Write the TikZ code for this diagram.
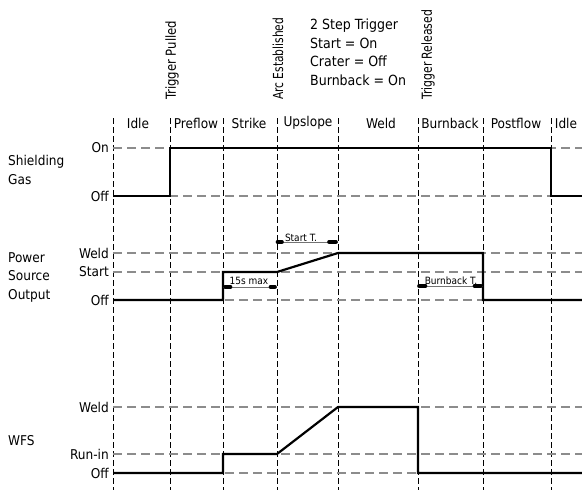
\documentclass[tikz,border=0pt]{standalone}
\usepackage{fontspec}
\setmainfont{DejaVu Sans Condensed}
\begin{document}
\begin{tikzpicture}[x=1pt,y=-1pt,
  vgrid/.style={black, line width=0.7pt, dash pattern=on 6pt off 3pt},
  hgrid/.style={black!45, line width=1.1pt, dash pattern=on 9pt off 5pt},
  signal/.style={black, line width=2.2pt, line join=miter, line cap=butt},
  dimline/.style={black!55, line width=0.7pt},
  blob/.style={black, line width=3.6pt, line cap=round},
  lvl/.style={anchor=east, font=\fontsize{13.5}{13.5}\selectfont, inner sep=0pt},
  rowlbl/.style={anchor=west, align=left, font=\fontsize{13.5}{18.5}\selectfont, inner sep=0pt},
  phase/.style={font=\fontsize{13.5}{13.5}\selectfont, inner sep=0pt},
  event/.style={rotate=90, anchor=west, font=\fontsize{13}{13}\selectfont, inner sep=0pt},
  dimlbl/.style={font=\fontsize{10}{10}\selectfont, inner sep=0pt},
  info/.style={anchor=north west, align=left, font=\fontsize{14}{18.5}\selectfont, inner sep=0pt}
]
\useasboundingbox (0,0) rectangle (582,490);

% vertical phase boundaries
\foreach \x [count=\i] in {113,170,223,277,338,418,483,551} {
  \coordinate (t\i) at (\x,118);
  \coordinate (b\i) at (\x,490);
  \draw[vgrid] (t\i) -- (b\i);
}

% horizontal levels
\foreach \nm/\y/\txt in {gOn/148/On, gOff/196/Off, pWeld/253/Weld, pStart/272/Start, pOff/300/Off, wWeld/407/Weld, wRun/454/Run-in, wOff/473/Off} {
  \coordinate (\nm L) at (113,\y);
  \coordinate (\nm R) at (582,\y);
  \draw[hgrid] (\nm L) -- (\nm R);
  \node[lvl] (\nm T) at (109,\y) {\txt};
}

% row labels
\node[rowlbl] (rowgas) at (8,170) {Shielding\\Gas};
\node[rowlbl] (rowpow) at (8,277) {Power\\Source\\Output};
\node[rowlbl] (rowwfs) at (8,441) {WFS};

% phase labels
\foreach \x/\txt [count=\i] in {138/Idle, 196/Preflow, 249/Strike, 308/Upslope, 381/Weld, 450/Burnback, 516/Postflow, 566/Idle} {
  \node[phase] (ph\i) at (\x,123) {\txt};
}

% event labels
\node[event] (evpull) at (172,100) {\resizebox{79pt}{10.5pt}{Trigger Pulled}};
\node[event] (evarc) at (278,100) {\resizebox{82pt}{10.5pt}{Arc Established}};
\node[event] (evrel) at (428,100) {\resizebox{90pt}{10.5pt}{Trigger Released}};

% info block
\node[info] (info) at (310,19) {2 Step Trigger\\Start = On\\Crater = Off\\Burnback = On};

% signals
\draw[signal] (gOffL) -- (170,196) -- (170,148) -- (551,148) -- (551,196) -- (gOffR);
\draw[signal] (pOffL) -- (223,300) -- (223,272) -- (277,272) -- (338,253) -- (483,253) -- (483,300) -- (pOffR);
\draw[signal] (wOffL) -- (223,473) -- (223,454) -- (277,454) -- (338,407) -- (418,407) -- (418,473) -- (wOffR);

% dimension: 15s max
\coordinate (d1a) at (223,287);
\coordinate (d1b) at (277,287);
\draw[dimline] (d1a) -- (d1b);
\draw[blob] ([xshift=2pt]d1a) -- ([xshift=7.5pt]d1a);
\draw[blob] ([xshift=-2pt]d1b) -- ([xshift=-6.5pt]d1b);
\node[dimlbl] (d1l) at (249,280.5) {15s max};

% dimension: Start T.
\coordinate (d2a) at (277,242);
\coordinate (d2b) at (338,242);
\draw[dimline] (d2a) -- (d2b);
\draw[blob] ([xshift=0.5pt]d2a) -- ([xshift=5pt]d2a);
\draw[blob] ([xshift=-2pt]d2b) -- ([xshift=-9pt]d2b);
\node[dimlbl] (d2l) at (301,237.5) {Start T.};

% dimension: Burnback T.
\coordinate (d3a) at (418,286);
\coordinate (d3b) at (483,286);
\draw[dimline] (d3a) -- (d3b);
\draw[blob] ([xshift=1pt]d3a) -- ([xshift=7.5pt]d3a);
\draw[blob] ([xshift=-2pt]d3b) -- ([xshift=-8.5pt]d3b);
\node[dimlbl] (d3l) at (451,281) {Burnback T.};
\end{tikzpicture}
\end{document}
